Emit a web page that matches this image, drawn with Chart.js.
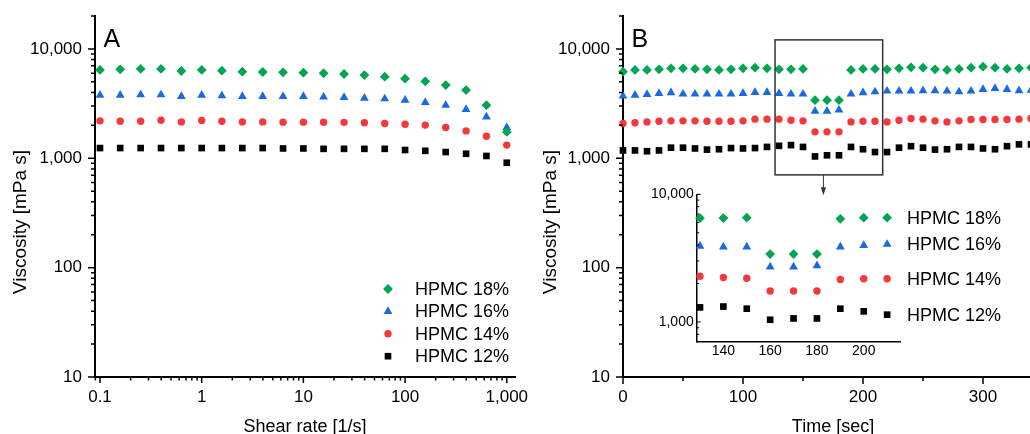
<!DOCTYPE html>
<html>
<head>
<meta charset="utf-8">
<script src="https://cdn.jsdelivr.net/npm/chart.js@4.4.1/dist/chart.umd.min.js"></script>
<style>
  html, body { margin: 0; padding: 0; background: #fff; overflow: hidden; }
  #wrap { position: relative; width: 1030px; height: 434px; overflow: hidden; }
  canvas { position: absolute; }
  #chartA { left: 0; top: 0; }
  #chartB { left: 530px; top: 0; }
  #inset { left: 630px; top: 180px; }
</style>
</head>
<body>
<div id="wrap">
  <canvas id="chartA" width="540" height="434"></canvas>
  <canvas id="chartB" width="530" height="434"></canvas>
  <canvas id="inset" width="390" height="185"></canvas>
</div>
<script>
const FONT = '"Liberation Sans", Arial, Helvetica, sans-serif';
Chart.defaults.font.family = FONT;
Chart.defaults.color = '#000';

// ---- data ----
const seriesNames = ['HPMC 18%', 'HPMC 16%', 'HPMC 14%', 'HPMC 12%'];

// panel A: flow curves
const shearRate = [0.1, 0.158, 0.251, 0.398, 0.631, 1, 1.58, 2.51, 3.98, 6.31, 10, 15.8, 25.1, 39.8, 63.1, 100, 158, 251, 398, 631, 1000];
const viscA18 = [6420, 6510, 6560, 6560, 6280, 6420, 6320, 6190, 6150, 6110, 6060, 5990, 5900, 5770, 5570, 5340, 5050, 4670, 4200, 3060, 1740];
const viscA16 = [3780, 3780, 3810, 3810, 3680, 3780, 3730, 3680, 3680, 3680, 3680, 3630, 3600, 3550, 3500, 3400, 3240, 3050, 2800, 2390, 1910];
const viscA14 = [2200, 2180, 2180, 2230, 2150, 2220, 2180, 2150, 2150, 2140, 2140, 2140, 2130, 2110, 2080, 2050, 2010, 1910, 1780, 1590, 1320];
const viscA12 = [1240, 1240, 1240, 1240, 1240, 1240, 1240, 1240, 1240, 1230, 1230, 1220, 1220, 1220, 1220, 1190, 1170, 1140, 1100, 1050, 910];

// panel B: time sweep
const timeSec = [0, 10, 20, 30, 40, 50, 60, 70, 80, 90, 100, 110, 120, 130, 140, 150, 160, 170, 180, 190, 200, 210, 220, 230, 240, 250, 260, 270, 280, 290, 300, 310, 320, 330, 340];
const viscB18 = [6190, 6420, 6420, 6510, 6650, 6650, 6560, 6510, 6420, 6510, 6650, 6740, 6650, 6510, 6510, 6560, 3400, 3400, 3400, 6420, 6560, 6560, 6510, 6650, 6790, 6740, 6510, 6420, 6560, 6740, 6880, 6740, 6560, 6650, 6740];
const viscB16 = [3710, 3780, 3840, 3920, 3980, 3870, 3870, 3870, 3870, 3870, 3920, 4000, 4000, 3920, 3870, 3870, 2700, 2700, 2760, 3870, 3980, 4060, 4120, 4120, 4120, 4150, 4150, 4120, 4060, 4120, 4270, 4360, 4270, 4150, 4200];
const viscB14 = [2080, 2110, 2150, 2180, 2200, 2200, 2200, 2180, 2180, 2180, 2200, 2280, 2280, 2280, 2230, 2200, 1745, 1745, 1745, 2150, 2180, 2180, 2150, 2230, 2310, 2280, 2200, 2150, 2200, 2260, 2260, 2260, 2260, 2280, 2310];
const viscB12 = [1180, 1180, 1160, 1180, 1250, 1250, 1230, 1200, 1210, 1240, 1230, 1240, 1270, 1300, 1320, 1270, 1040, 1065, 1065, 1270, 1210, 1140, 1140, 1250, 1290, 1250, 1200, 1210, 1270, 1270, 1230, 1210, 1290, 1340, 1340];

// tick labels
const yLabelTicks = [10, 100, 1000, 10000];
const xLabelTicksA = [0.1, 1, 10, 100, 1000];
const xLabelTicksB = [0, 100, 200, 300];
const insetXLabelTicks = [140, 160, 180, 200];
const insetYLabelTicks = [1000, 10000];
// zoomed window shown in the inset
const insetTime = [130, 210];

// ---- styles ----
const styles = [
  { color: '#00a452', shape: 'rectRot', r: 4.9 },
  { color: '#1a69e0', shape: 'triangle', r: 5.1 },
  { color: '#f6383c', shape: 'circle', r: 3.7 },
  { color: '#000000', shape: 'rect', r: 4.7 }
];

function makeSets(xs, lists, keep) {
  return lists.map((vals, i) => ({
    label: seriesNames[i],
    data: xs.map((x, j) => ({ x: x, y: vals[j] })).filter(p => !keep || keep(p.x)),
    pointStyle: styles[i].shape,
    pointRadius: styles[i].r,
    pointBackgroundColor: styles[i].color,
    pointBorderWidth: 0,
    showLine: false,
    clip: false
  }));
}

function logTicks(min, max) {
  const out = [];
  for (let e = Math.floor(Math.log10(min)); e <= Math.ceil(Math.log10(max)); e++) {
    for (let k = 1; k <= 9; k++) {
      const v = Number((k * Math.pow(10, e)).toPrecision(6));
      if (v >= min && v <= max) out.push({ value: v, major: k === 1 });
    }
  }
  return out;
}

function labelIf(list) {
  return function (value) {
    return list.some(v => Math.abs(v - value) < 1e-9 * Math.max(1, v)) ? value.toLocaleString('en-US') : '';
  };
}

// own tick marks: majors longer than minors
function tickPlugin(spec, lw) {
  return {
    id: 'tickMarks',
    afterDraw(chart) {
      const ctx = chart.ctx;
      ctx.save();
      ctx.strokeStyle = '#000';
      ctx.lineWidth = lw;
      ctx.beginPath();
      for (const id in spec) {
        const s = chart.scales[id], t = spec[id];
        for (const tk of s.ticks) {
          const len = tk.major ? t.major : t.minor;
          if (!len) continue;
          const p = s.getPixelForValue(tk.value);
          if (s.isHorizontal()) {
            const y0 = chart.chartArea.bottom;
            ctx.moveTo(p, y0); ctx.lineTo(p, y0 + t.dir * len);
          } else {
            const x0 = chart.chartArea.left;
            ctx.moveTo(x0, p); ctx.lineTo(x0 + t.dir * len, p);
          }
        }
      }
      ctx.stroke();
      ctx.restore();
    }
  };
}

function panelDecor(letter, titleX) {
  return {
    id: 'panelDecor',
    afterDraw(chart) {
      const { ctx, chartArea } = chart;
      ctx.save();
      ctx.fillStyle = '#000';
      ctx.font = '25px ' + FONT;
      ctx.textAlign = 'left';
      ctx.textBaseline = 'alphabetic';
      ctx.fillText(letter, chartArea.left + 8.5, chartArea.top + 31);
      ctx.translate(titleX, 222);
      ctx.rotate(-Math.PI / 2);
      ctx.font = '19px ' + FONT;
      ctx.textAlign = 'center';
      ctx.textBaseline = 'middle';
      ctx.fillText('Viscosity [mPa s]', 0, 0);
      ctx.restore();
    }
  };
}

function drawMarker(ctx, st, x, y) {
  ctx.fillStyle = st.color;
  if (Chart.helpers && Chart.helpers.drawPoint) {
    Chart.helpers.drawPoint(ctx, { pointStyle: st.shape, radius: st.r, borderWidth: 0, rotation: 0 }, x, y);
  } else {
    ctx.beginPath(); ctx.arc(x, y, st.r, 0, Math.PI * 2); ctx.fill();
  }
}

const legendA = {
  id: 'legendA',
  afterDraw(chart) {
    const { ctx, chartArea } = chart;
    ctx.save();
    ctx.font = '18px ' + FONT;
    ctx.textAlign = 'left';
    ctx.textBaseline = 'middle';
    seriesNames.forEach((name, i) => {
      const y = chartArea.bottom - 88 + i * 22.4;
      drawMarker(ctx, styles[i], chartArea.right - 127, y);
      ctx.fillStyle = '#000';
      ctx.fillText(name, chartArea.right - 100, y + 1);
    });
    ctx.restore();
  }
};

function baseAxis(extra) {
  return Object.assign({
    grid: { display: false, drawTicks: false },
    border: { display: true, color: '#000', width: 2 }
  }, extra);
}

// keep label overhang from pushing the plot area around
function fitY(width) {
  return s => { s.width = width; s.paddingTop = 0; s.paddingBottom = 0; };
}
function fitX(height) {
  return s => { s.height = height; s.paddingLeft = 0; s.paddingRight = 0; };
}

function yAxisMain(width) {
  return baseAxis({
    type: 'logarithmic', min: 10, max: 20000,
    afterBuildTicks: s => { s.ticks = logTicks(10, 20000); },
    afterFit: fitY(width),
    ticks: { autoSkip: false, font: { size: 17 }, padding: 13, callback: labelIf(yLabelTicks) }
  });
}

// ---- panel A ----
new Chart(document.getElementById('chartA'), {
  type: 'scatter',
  data: { datasets: makeSets(shearRate, [viscA18, viscA16, viscA14, viscA12]) },
  options: {
    responsive: false, animation: false,
    layout: { padding: { top: 16, right: 25, left: 0, bottom: 0 } },
    plugins: { legend: { display: false }, tooltip: { enabled: false } },
    scales: {
      x: baseAxis({
        type: 'logarithmic', min: 0.0893, max: 1205,
        afterBuildTicks: s => { s.ticks = logTicks(0.0893, 1205); },
        afterFit: fitX(57),
        ticks: { autoSkip: false, maxRotation: 0, minRotation: 0, font: { size: 17 }, padding: 10, callback: labelIf(xLabelTicksA) },
        title: { display: true, text: 'Shear rate [1/s]', font: { size: 18, lineHeight: 1 }, padding: { top: 0, bottom: -2 } }
      }),
      y: yAxisMain(95)
    }
  },
  plugins: [tickPlugin({ x: { major: 6, minor: 3.5, dir: 1 }, y: { major: 7, minor: 4, dir: -1 } }, 1.5), panelDecor('A', 21), legendA]
});

// ---- panel B ----
const zoomBox = {
  id: 'zoomBox',
  afterDraw(chart) {
    const { ctx } = chart;
    const x = chart.scales.x, y = chart.scales.y;
    const x0 = x.getPixelForValue(126.7), x1 = x.getPixelForValue(216.4);
    const y0 = y.getPixelForValue(12100), y1 = y.getPixelForValue(705);
    ctx.save();
    ctx.strokeStyle = '#333';
    ctx.lineWidth = 1.5;
    ctx.strokeRect(x0, y0, x1 - x0, y1 - y0);
    const ax = x.getPixelForValue(167), ay = y.getPixelForValue(460);
    ctx.lineWidth = 1;
    ctx.beginPath(); ctx.moveTo(ax, y1); ctx.lineTo(ax, ay - 6); ctx.stroke();
    ctx.fillStyle = '#333';
    ctx.beginPath(); ctx.moveTo(ax - 2.5, ay - 8); ctx.lineTo(ax + 2.5, ay - 8); ctx.lineTo(ax, ay); ctx.closePath(); ctx.fill();
    ctx.restore();
  }
};

new Chart(document.getElementById('chartB'), {
  type: 'scatter',
  data: { datasets: makeSets(timeSec, [viscB18, viscB16, viscB14, viscB12]) },
  options: {
    responsive: false, animation: false,
    layout: { padding: { top: 16, right: 17, left: 0, bottom: 0 } },
    plugins: { legend: { display: false }, tooltip: { enabled: false } },
    scales: {
      x: baseAxis({
        type: 'linear', min: 0, max: 350,
        afterBuildTicks: s => { s.ticks = [0, 50, 100, 150, 200, 250, 300, 350].map(v => ({ value: v, major: v % 100 === 0 })); },
        afterFit: fitX(57),
        ticks: { autoSkip: false, maxRotation: 0, minRotation: 0, font: { size: 17 }, padding: 10, callback: labelIf(xLabelTicksB) },
        title: { display: true, text: 'Time [sec]', font: { size: 18, lineHeight: 1 }, padding: { top: 0, bottom: -2 } }
      }),
      y: yAxisMain(93)
    }
  },
  plugins: [tickPlugin({ x: { major: 7, minor: 4, dir: 1 }, y: { major: 7, minor: 4, dir: -1 } }, 1.5), panelDecor('B', 20.5), zoomBox]
});

// ---- inset ----
const insetLabels = {
  id: 'insetLabels',
  afterDraw(chart) {
    const { ctx, chartArea } = chart;
    ctx.save();
    ctx.font = '18px ' + FONT;
    ctx.fillStyle = '#000';
    ctx.textAlign = 'left';
    ctx.textBaseline = 'middle';
    chart.data.datasets.forEach((ds, i) => {
      const last = ds.data[ds.data.length - 1];
      ctx.fillText(seriesNames[i], chartArea.right + 7, chart.scales.y.getPixelForValue(last.y) + 1);
    });
    ctx.restore();
  }
};

new Chart(document.getElementById('inset'), {
  type: 'scatter',
  data: { datasets: makeSets(timeSec, [viscB18, viscB16, viscB14, viscB12], t => t >= insetTime[0] && t <= insetTime[1]) },
  options: {
    responsive: false, animation: false,
    layout: { padding: { top: 14.3, right: 120, left: 0, bottom: 0 } },
    plugins: { legend: { display: false }, tooltip: { enabled: false } },
    scales: {
      x: baseAxis({
        type: 'linear', min: 128.6, max: 215.5,
        border: { display: true, color: '#000', width: 1.5 },
        afterBuildTicks: s => { s.ticks = insetXLabelTicks.map(v => ({ value: v, major: true })); },
        afterFit: fitX(23.3),
        ticks: { autoSkip: false, maxRotation: 0, minRotation: 0, font: { size: 14 }, padding: 1, callback: labelIf(insetXLabelTicks) }
      }),
      y: baseAxis({
        type: 'logarithmic', min: 700, max: 10000,
        border: { display: true, color: '#000', width: 1.5 },
        afterBuildTicks: s => { s.ticks = logTicks(700, 10000); },
        afterFit: fitY(66.7),
        ticks: { autoSkip: false, font: { size: 14 }, padding: 3, callback: labelIf(insetYLabelTicks) }
      })
    }
  },
  plugins: [tickPlugin({ y: { major: 4, minor: 2.5, dir: 1 } }, 1), insetLabels]
});
</script>
</body>
</html>
